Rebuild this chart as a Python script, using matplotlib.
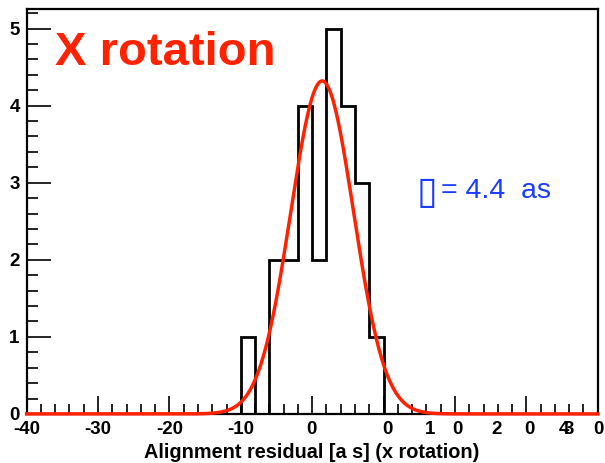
import numpy as np
import matplotlib
matplotlib.use("Agg")
import matplotlib.pyplot as plt
import matplotlib.transforms as mtransforms
from matplotlib.ticker import MultipleLocator

# Histogram of alignment residuals (bin edges and counts)
bin_edges = [-10, -8, -6, -4, -2, 0, 2, 4, 6, 8, 10]
bin_counts = [1, 0, 2, 2, 4, 2, 5, 4, 3, 1]

# Gaussian fit parameters
fit_amp = 4.32
fit_mean = 1.4
fit_sigma = 4.4

# Tick labels as they appear under the x axis
xlabel_text = ["-40", "-30", "-20", "-10", "0", "0", "1", "0", "2", "0", "4", "3", "0"]
xlabel_pos = [-40, -30, -20, -10, -0.1, 10.5, 16.5, 20.4, 25.8, 30.5, 35.3, 35.9, 40.1]

plt.rcParams["font.family"] = ["Liberation Sans", "DejaVu Sans"]

fig = plt.figure(figsize=(6.05, 4.63), dpi=100)
ax = fig.add_axes([0.044, 0.106, 0.944, 0.874])

# Histogram outline
ax.stairs(bin_counts, bin_edges, color="black", linewidth=2, baseline=0)

# Gaussian fit curve
xs = np.linspace(-40, 40, 800)
ax.plot(xs, fit_amp * np.exp(-0.5 * ((xs - fit_mean) / fit_sigma) ** 2),
        color="#ff2200", linewidth=2.5, clip_on=False, zorder=3)

ax.set_xlim(-40, 40)
ax.set_ylim(0, 5.25)

# Frame and ticks
for side in ["left", "right", "top", "bottom"]:
    ax.spines[side].set_linewidth(1.6)
ax.xaxis.set_major_locator(MultipleLocator(10))
ax.xaxis.set_minor_locator(MultipleLocator(2))
ax.yaxis.set_major_locator(MultipleLocator(1))
ax.yaxis.set_minor_locator(MultipleLocator(0.2))
ax.tick_params(axis="both", which="both", direction="in", top=False, right=False, width=1.2)
ax.tick_params(axis="x", which="major", length=13)
ax.tick_params(axis="x", which="minor", length=7)
ax.tick_params(axis="y", which="major", length=17)
ax.tick_params(axis="y", which="minor", length=8)
ax.tick_params(axis="y", labelsize=13.5, pad=5)
for lab in ax.get_yticklabels():
    lab.set_fontweight("bold")
ax.set_xticklabels([])

# Odd x tick labels drawn as text
trans = mtransforms.blended_transform_factory(ax.transData, ax.transAxes)
for txt, pos in zip(xlabel_text, xlabel_pos):
    ax.text(pos, -0.018, txt, transform=trans, ha="center", va="top",
            fontsize=13.5, fontweight="bold", clip_on=False)

ax.text(0.5, -0.109, "Alignment residual [a s] (x rotation)", transform=ax.transAxes,
        ha="center", va="baseline", fontsize=14.3, fontweight="bold")

# Annotations
ax.text(0.049, 0.862, "X rotation", transform=ax.transAxes, ha="left", va="baseline",
        fontsize=34, fontweight="bold", color="#ff2200")
ax.text(0.683, 0.522, "\u25af", transform=ax.transAxes, ha="left", va="baseline",
        fontsize=27, color="#1a3cff", family=["DejaVu Sans"])
ax.text(0.726, 0.534, "= 4.4  as", transform=ax.transAxes, ha="left", va="baseline",
        fontsize=20.5, color="#1a3cff")

fig.savefig("out.png", dpi=100)
